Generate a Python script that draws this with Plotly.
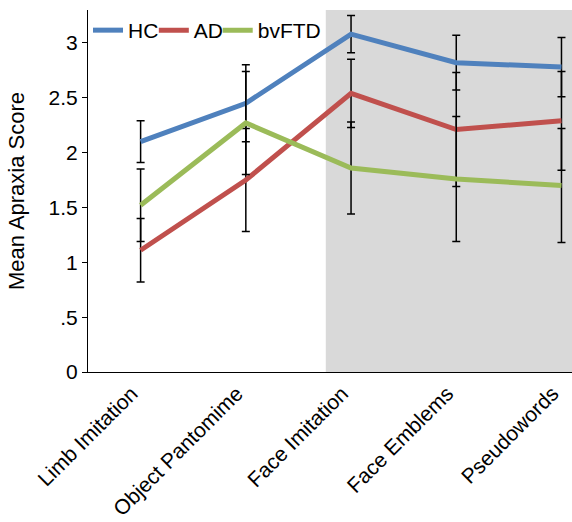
import plotly.graph_objects as go

categories = ["Limb Imitation", "Object Pantomime", "Face Imitation", "Face Emblems", "Pseudowords"]
hc = [2.10, 2.45, 3.08, 2.82, 2.78]
hc_err = [0.19, 0.35, 0.17, 0.25, 0.27]
ad = [1.11, 1.75, 2.54, 2.21, 2.29]
ad_err = [0.29, 0.47, 0.31, 0.52, 0.45]
bv = [1.52, 2.27, 1.86, 1.76, 1.70]
bv_err = [0.33, 0.47, 0.42, 0.57, 0.52]
ytick_vals = [0, 0.5, 1, 1.5, 2, 2.5, 3]
ytick_text = ["0", ".5", "1", "1.5", "2", "2.5", "3"]

xs = list(range(len(categories)))

fig = go.Figure()
series = [("HC", hc, hc_err, "#4F81BD", "legend"),
          ("AD", ad, ad_err, "#C0504D", "legend2"),
          ("bvFTD", bv, bv_err, "#9BBB59", "legend3")]
for name, vals, errs, col, lg in series:
    fig.add_trace(go.Scatter(
        x=xs, y=vals, name=name, mode="lines", legend=lg,
        line=dict(color=col, width=5),
        error_y=dict(type="data", array=errs, visible=True, color="black", thickness=1.5, width=4),
    ))

fig.add_shape(type="rect", xref="x", yref="paper", x0=1.76, x1=4.1, y0=0, y1=1,
              fillcolor="#D9D9D9", line=dict(width=0), layer="below")

def leg(xpos):
    return dict(orientation="h", x=xpos, y=1.0, xanchor="left", yanchor="top",
                bgcolor="rgba(0,0,0,0)", font=dict(size=21), itemwidth=30)

fig.update_layout(
    width=572, height=522,
    margin=dict(l=88, r=0, t=10, b=150),
    plot_bgcolor="white", paper_bgcolor="white",
    font=dict(family="Liberation Sans, Arial, sans-serif", size=21, color="black"),
    showlegend=True,
    legend=leg(0.0), legend2=leg(0.136), legend3=leg(0.268),
    xaxis=dict(range=[-0.5, 4.1], tickvals=xs, ticktext=categories, tickangle=-45,
               showline=True, linecolor="black", linewidth=1, showgrid=False, zeroline=False,
               ticks="", tickfont=dict(size=21), automargin=False, ticklabelshift=-9),
    yaxis=dict(range=[0, 3.3], tickvals=ytick_vals, ticktext=ytick_text,
               showline=True, linecolor="black", linewidth=1, showgrid=False, zeroline=False,
               ticks="outside", ticklen=5, tickcolor="black", tickfont=dict(size=21),
               automargin=False,
               title=dict(text="Mean Apraxia Score", font=dict(size=22), standoff=17)),
)

fig.write_html("out.html", config={"displayModeBar": False},
               post_script="document.body.style.margin='0';document.body.style.padding='0';")
